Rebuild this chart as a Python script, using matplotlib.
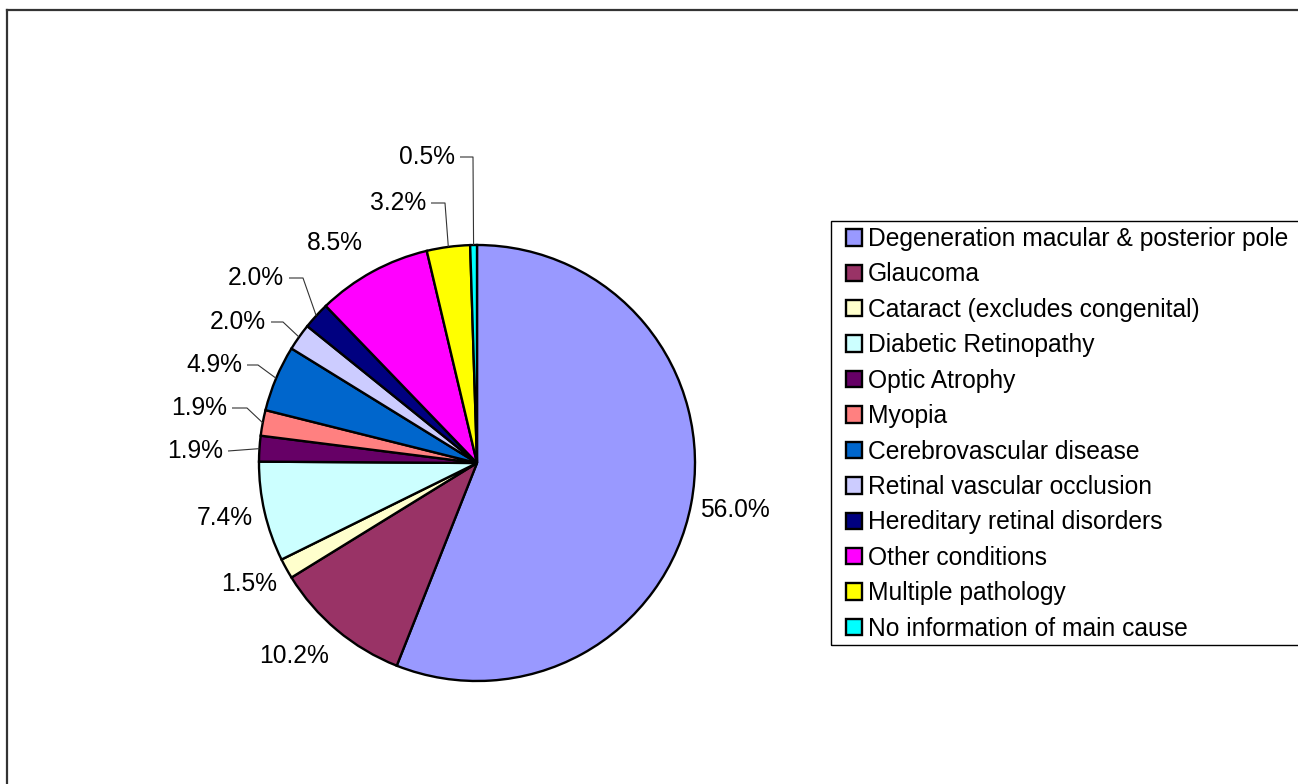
import numpy as np
import matplotlib
matplotlib.use("Agg")
import matplotlib.pyplot as plt
from matplotlib.patches import Rectangle

plt.rcParams['font.family'] = ['Liberation Sans', 'DejaVu Sans']

# Data
causes = [
    "Degeneration macular & posterior pole",
    "Glaucoma",
    "Cataract (excludes congenital)",
    "Diabetic Retinopathy",
    "Optic Atrophy",
    "Myopia",
    "Cerebrovascular disease",
    "Retinal vascular occlusion",
    "Hereditary retinal disorders",
    "Other conditions",
    "Multiple pathology",
    "No information of main cause",
]
percent = [56.0, 10.2, 1.5, 7.4, 1.9, 1.9, 4.9, 2.0, 2.0, 8.5, 3.2, 0.5]
colors = ["#9999FF", "#993366", "#FFFFCC", "#CCFFFF", "#660066", "#FF8080",
          "#0066CC", "#CCCCFF", "#000080", "#FF00FF", "#FFFF00", "#00FFFF"]

# label layout in image pixels: (x, y, leader elbow x or None, has leader)
# for labels with a leader, x is the right edge of the text
label_pos = [
    (735, 510, None, False),
    (294, 656, None, False),
    (249, 584, None, False),
    (225, 518, None, False),
    (223, 451, None, True),
    (227, 408, 247, True),
    (242, 365, 258, True),
    (266, 322, 283, True),
    (284, 278, 303, True),
    (335, 243, None, False),
    (426, 203, 445, True),
    (455, 157, 473, True),
]

W, H = 1298, 784
fig = plt.figure(figsize=(W / 100, H / 100), dpi=100)
ax = fig.add_axes([0, 0, 1, 1])


def Y(y):
    return H - y


cx, cy, r = 477, Y(463), 218
wedges, _ = ax.pie(percent, colors=colors, startangle=90, counterclock=False,
                   center=(cx, cy), radius=r,
                   wedgeprops=dict(edgecolor="black", linewidth=1.7))
ax.set_xlim(0, W)
ax.set_ylim(0, H)
ax.set_aspect("equal")
ax.axis("off")

fs = 17.7
for w, p, (lx, ly, ex, lead) in zip(wedges, percent, label_pos):
    txt = f"{p:.1f}%"
    if not lead:
        ax.text(lx, Y(ly), txt, ha="center", va="center", fontsize=fs)
        continue
    ax.text(lx, Y(ly), txt, ha="right", va="center", fontsize=fs)
    ang = np.deg2rad((w.theta1 + w.theta2) / 2)
    px, py = cx + r * np.cos(ang), cy + r * np.sin(ang)
    xs = [lx + 5]
    ys = [Y(ly)]
    if ex is not None:
        xs.append(ex)
        ys.append(Y(ly))
    xs.append(px)
    ys.append(py)
    ax.plot(xs, ys, color="#333333", lw=0.8, solid_capstyle="butt")

# legend
ax.add_patch(Rectangle((831, Y(645)), 520, 424, fill=False,
                       edgecolor="black", lw=1.0))
leg = ax.legend(wedges, causes, loc="upper left",
                bbox_to_anchor=(846, Y(227)), bbox_transform=ax.transData,
                frameon=False, fontsize=fs, borderpad=0, borderaxespad=0,
                handlelength=0.65, handleheight=0.65, handletextpad=0.25,
                labelspacing=0.465)

# outer chart border (only top and left visible)
ax.plot([7, 7], [Y(10), 0], color="#333333", lw=1.6)
ax.plot([7, W], [Y(10), Y(10)], color="#333333", lw=1.6)

fig.savefig("out.png", dpi=100)
